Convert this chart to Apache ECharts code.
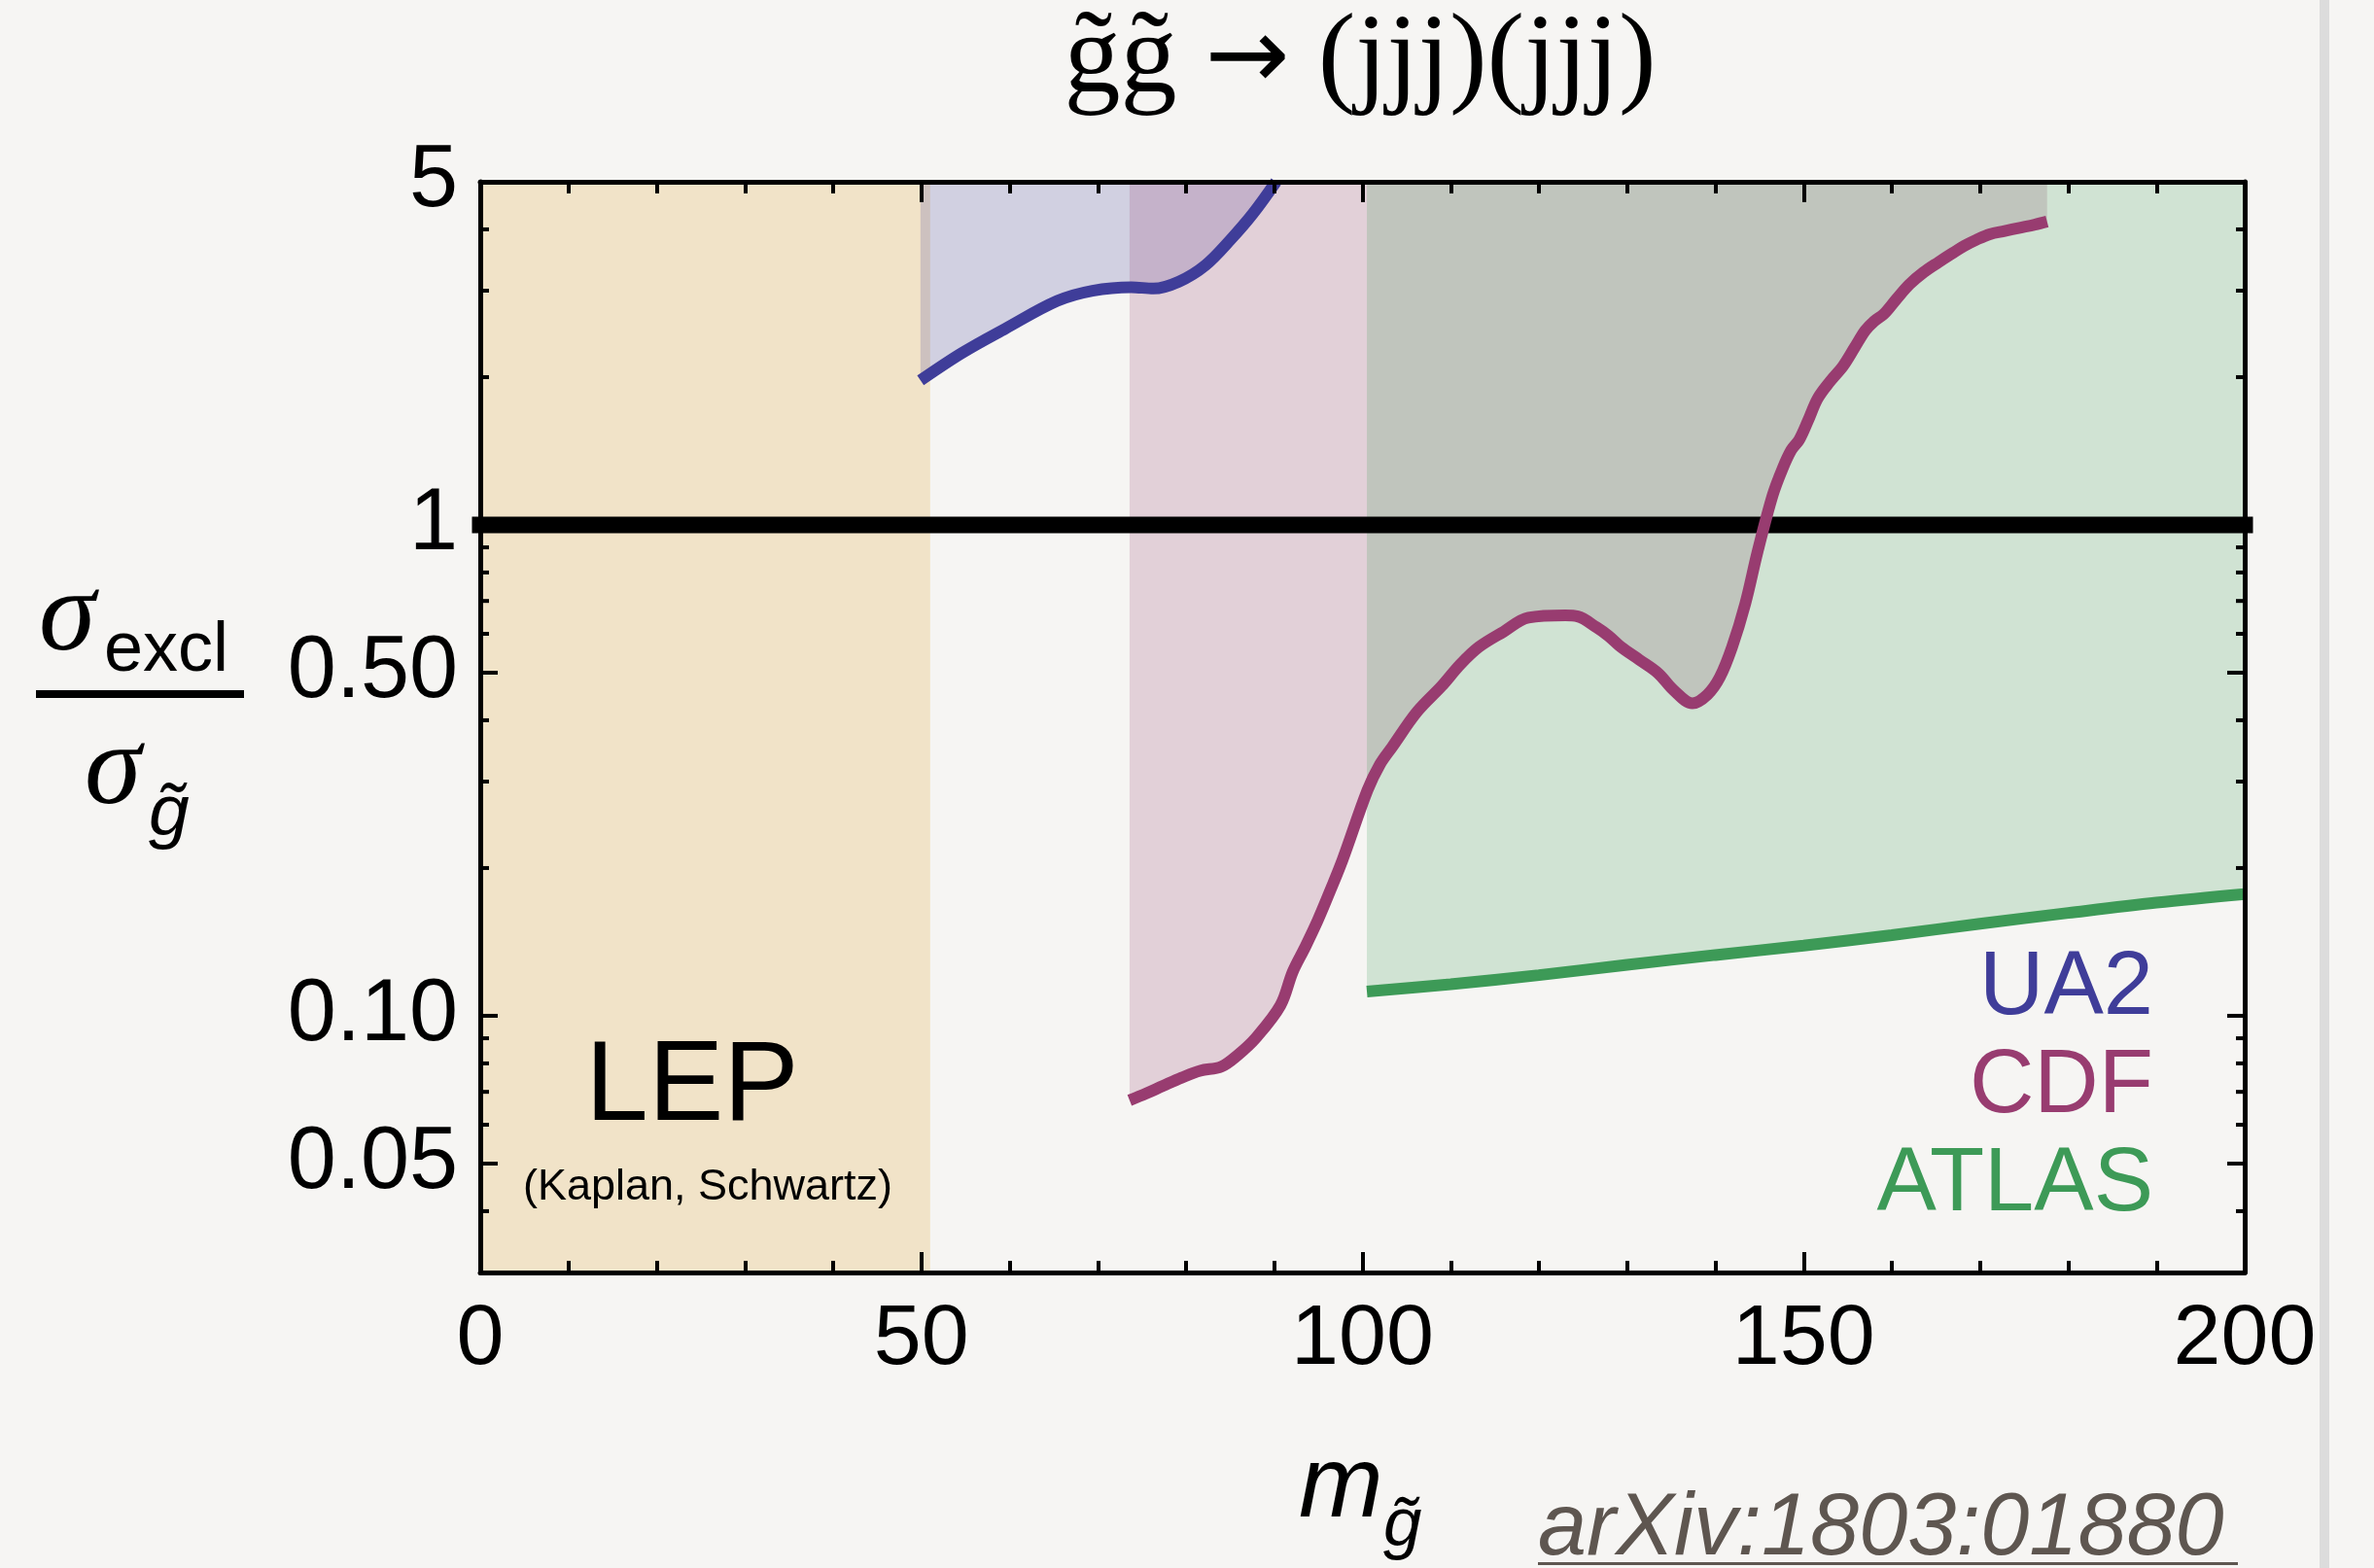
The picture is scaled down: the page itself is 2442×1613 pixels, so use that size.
<!DOCTYPE html>
<html><head><meta charset="utf-8">
<script src="https://cdn.jsdelivr.net/npm/echarts@6/dist/echarts.min.js"></script>
<style>html,body{margin:0;padding:0;background:#F6F5F3;}#c{width:2442px;height:1613px;}</style>
</head><body><div id="c"></div>
<script>
// ---------- data ----------
const xRange = [0, 200];
const yRange = [0.03, 5];
const xTickValues = [0, 50, 100, 150, 200];
const xTickLabels = ['0', '50', '100', '150', '200'];
const yMajorTicks = [5, 1, 0.5, 0.1, 0.05];
const yTickLabels = ['5', '1', '0.50', '0.10', '0.05'];
const yMinorTicks = [4, 3, 2, 0.9, 0.8, 0.7, 0.6, 0.4, 0.3, 0.2, 0.09, 0.08, 0.07, 0.06, 0.04];
const lepRange = [0, 51];
const unitLine = [[0, 1], [200, 1]];
const ua2Data = [[49.9,1.97],[54.6,2.24],[59.5,2.51],[65.4,2.86],[69.4,3.00],[73.8,3.05],[76.3,3.03],[79.2,3.13],[82.2,3.38],[85.1,3.82],[87.6,4.31],[90.2,5.0]];
const cdfData = [[73.6,0.0673],[75.5,0.0695],[77.4,0.072],[79.5,0.0748],[81.6,0.0773],[84.0,0.0788],[85.8,0.083],[87.9,0.0901],[90.7,0.105],[92.1,0.123],[93.5,0.138],[94.9,0.156],[96.35,0.18],[97.75,0.208],[100.56,0.288],[101.97,0.325],[103.37,0.353],[106.18,0.416],[109.0,0.47],[111.1,0.52],[113.2,0.564],[116.0,0.606],[118.8,0.647],[123.0,0.654],[124.4,0.651],[126.5,0.619],[127.9,0.594],[129.3,0.564],[131.4,0.531],[133.5,0.499],[135.3,0.46],[137.4,0.433],[139.1,0.451],[140.5,0.489],[141.9,0.564],[143.4,0.692],[144.8,0.884],[146.5,1.15],[147.6,1.3],[148.6,1.42],[149.5,1.49],[150.5,1.63],[151.6,1.81],[153,1.96],[154.5,2.11],[155.8,2.3],[157,2.49],[158,2.6],[159.1,2.69],[160.5,2.88],[162,3.09],[163.6,3.27],[165.3,3.43],[166.8,3.57],[168.2,3.70],[169.6,3.81],[171.1,3.91],[172.8,3.97],[174.5,4.03],[176.2,4.09],[177.6,4.15]];
const atlasData = [[100.5,0.112],[110,0.116],[120,0.121],[130,0.127],[140,0.133],[150,0.139],[160,0.146],[170,0.154],[180,0.162],[190,0.170],[200,0.177]];
const regionLabels = ['UA2', 'CDF', 'ATLAS'];

// ---------- style ----------
const C_UA2 = '#3F3D99', C_CDF = '#983C70', C_ATLAS = '#3D9A57';
const F_UA2 = 'rgba(63,61,153,0.2)', F_CDF = 'rgba(152,60,112,0.2)', F_ATLAS = 'rgba(61,154,87,0.2)';
const SANS = '"Liberation Sans", Arial, sans-serif';
const SERIF = '"Liberation Serif", "Times New Roman", serif';
const SM = 0.35;

const chart = echarts.init(document.getElementById('c'), null, {renderer: 'canvas'});

function areaSeries(data, fill) {
  return {type: 'line', data, smooth: SM, showSymbol: false, symbol: 'none', silent: true, z: 2,
    lineStyle: {width: 0, opacity: 0}, areaStyle: {color: fill, origin: 'end', opacity: 1}};
}
function lineSeries(data, color) {
  return {type: 'line', data, smooth: SM, showSymbol: false, symbol: 'none', silent: true, z: 4,
    lineStyle: {width: 12, color, cap: 'butt'}};
}

const tickData = yMajorTicks.map((v, i) => [0, v, 1, i]).concat(yMinorTicks.map(v => [0, v, 0, -1]));

const option = {
  backgroundColor: '#F6F5F3',
  animation: false,
  grid: {left: 494, right: 133, top: 187, bottom: 304},
  xAxis: [
    {type: 'value', min: xRange[0], max: xRange[1], interval: 50, position: 'bottom', z: 10,
      axisLine: {show: true, onZero: false, lineStyle: {color: '#000', width: 5}},
      axisTick: {show: true, inside: true, length: 21, lineStyle: {color: '#000', width: 4}},
      minorTick: {show: true, splitNumber: 5, length: 12, lineStyle: {color: '#000', width: 4}},
      splitLine: {show: false}, minorSplitLine: {show: false},
      axisLabel: {show: true, margin: 26, fontSize: 88, fontFamily: SANS, color: '#000',
        formatter: v => { const i = xTickValues.indexOf(v); return i >= 0 ? xTickLabels[i] : ''; }}},
    {type: 'value', min: xRange[0], max: xRange[1], interval: 50, position: 'top', z: 10,
      axisLine: {show: true, onZero: false, lineStyle: {color: '#000', width: 5}},
      axisTick: {show: true, inside: true, length: 21, lineStyle: {color: '#000', width: 4}},
      minorTick: {show: true, splitNumber: 5, length: 12, lineStyle: {color: '#000', width: 4}},
      splitLine: {show: false}, axisLabel: {show: false}}
  ],
  yAxis: [
    {type: 'log', logBase: 10, min: yRange[0], max: yRange[1], position: 'left', z: 10,
      axisLine: {show: true, onZero: false, lineStyle: {color: '#000', width: 5}},
      axisTick: {show: false}, axisLabel: {show: false}, splitLine: {show: false}},
    {type: 'log', logBase: 10, min: yRange[0], max: yRange[1], position: 'right', z: 10,
      axisLine: {show: true, onZero: false, lineStyle: {color: '#000', width: 5}},
      axisTick: {show: false}, axisLabel: {show: false}, splitLine: {show: false}}
  ],
  series: [
    {type: 'custom', z: 1, silent: true, clip: true,
      data: [[lepRange[0], lepRange[1], yRange[0], yRange[1]]],
      encode: {x: [0, 1], y: [2, 3]},
      renderItem: (params, api) => {
        const p0 = api.coord([api.value(0), api.value(3)]);
        const p1 = api.coord([api.value(1), api.value(2)]);
        return {type: 'rect', shape: {x: p0[0], y: p0[1], width: p1[0] - p0[0], height: p1[1] - p0[1]},
          style: {fill: '#F1E3C8'}};
      }},
    areaSeries(ua2Data, F_UA2),
    areaSeries(cdfData, F_CDF),
    areaSeries(atlasData, F_ATLAS),
    {type: 'line', data: unitLine, showSymbol: false, symbol: 'none', silent: true, z: 3, clip: false,
      lineStyle: {width: 17, color: '#000', cap: 'square'}},
    lineSeries(ua2Data, C_UA2),
    lineSeries(cdfData, C_CDF),
    lineSeries(atlasData, C_ATLAS),
    {type: 'custom', z: 11, silent: true, clip: false, data: tickData, encode: {x: 0, y: 1},
      renderItem: (params, api) => {
        const v = api.value(1), major = api.value(2), li = api.value(3);
        const pL = api.coord([xRange[0], v]);
        const pR = api.coord([xRange[1], v]);
        const len = major ? 18 : 9;
        const ch = [
          {type: 'line', shape: {x1: pL[0], y1: pL[1], x2: pL[0] + len, y2: pL[1]}, style: {stroke: '#000', lineWidth: 4}},
          {type: 'line', shape: {x1: pR[0] - len, y1: pR[1], x2: pR[0], y2: pR[1]}, style: {stroke: '#000', lineWidth: 4}}
        ];
        if (major) ch.push({type: 'text', x: pL[0] - 23, y: pL[1],
          style: {text: yTickLabels[li], font: '90px ' + SANS, fill: '#000', align: 'right', verticalAlign: 'middle'}});
        return {type: 'group', children: ch};
      }}
  ],
  graphic: [
    {type: 'rect', z: 20, shape: {x: 2386, y: 0, width: 10, height: 1613}, style: {fill: '#DCDCDC'}},
    {type: 'text', z: 20, x: 1399, y: 64, style: {
      text: '{a|g\u0303g\u0303 }{b|\u2192}{a| (jjj)(jjj)}',
      align: 'center', verticalAlign: 'middle',
      rich: {a: {font: '116px ' + SERIF, fill: '#000'}, b: {font: '104px "DejaVu Sans", sans-serif', fill: '#000'}}}},
    // y-axis label fraction
    {type: 'text', z: 20, x: 40, y: 637, style: {text: '\u03C3', font: 'italic 118px ' + SERIF, fill: '#000', align: 'left', verticalAlign: 'middle'}},
    {type: 'text', z: 20, x: 107, y: 670, style: {text: 'excl', font: '72px ' + SANS, fill: '#000', align: 'left', verticalAlign: 'middle'}},
    {type: 'rect', z: 20, shape: {x: 37, y: 710, width: 214, height: 8}, style: {fill: '#000'}},
    {type: 'text', z: 20, x: 87, y: 795, style: {text: '\u03C3', font: 'italic 118px ' + SERIF, fill: '#000', align: 'left', verticalAlign: 'middle'}},
    {type: 'text', z: 20, x: 153, y: 838, style: {text: 'g\u0303', font: 'italic 75px ' + SANS, fill: '#000', align: 'left', verticalAlign: 'middle'}},
    // x-axis label
    {type: 'text', z: 20, x: 1336, y: 1531, style: {text: 'm', font: 'italic 104px ' + SANS, fill: '#000', align: 'left', verticalAlign: 'middle'}},
    {type: 'text', z: 20, x: 1423, y: 1570, style: {text: 'g\u0303', font: 'italic 71px ' + SANS, fill: '#000', align: 'left', verticalAlign: 'middle'}},
    // region labels
    {type: 'text', z: 20, x: 712, y: 1120, style: {text: 'LEP', font: '116px ' + SANS, fill: '#000', align: 'center', verticalAlign: 'middle'}},
    {type: 'text', z: 20, x: 728, y: 1222, style: {text: '(Kaplan, Schwartz)', font: '45px ' + SANS, fill: '#000', align: 'center', verticalAlign: 'middle'}},
    {type: 'text', z: 20, x: 2215, y: 1018, style: {text: regionLabels[0], font: '92px ' + SANS, fill: C_UA2, align: 'right', verticalAlign: 'middle'}},
    {type: 'text', z: 20, x: 2215, y: 1119, style: {text: regionLabels[1], font: '92px ' + SANS, fill: C_CDF, align: 'right', verticalAlign: 'middle'}},
    {type: 'text', z: 20, x: 2215, y: 1220, style: {text: regionLabels[2], font: '92px ' + SANS, fill: C_ATLAS, align: 'right', verticalAlign: 'middle'}},
    // watermark
    {type: 'text', z: 20, x: 1582, y: 1574, style: {text: 'arXiv:1803:01880', font: 'italic 90px ' + SANS, fill: '#5E5650', align: 'left', verticalAlign: 'middle'}},
    {type: 'rect', z: 20, shape: {x: 1582, y: 1607, width: 720, height: 3}, style: {fill: '#5E5650'}}
  ]
};
chart.setOption(option);
</script></body></html>
